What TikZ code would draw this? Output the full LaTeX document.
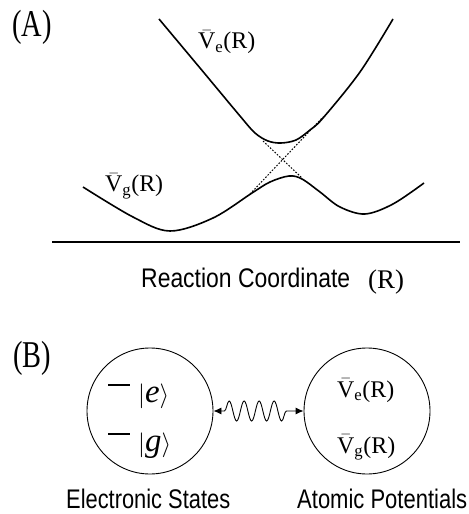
\documentclass[tikz,border=0pt]{standalone}
\usepackage{fontspec}
\usepackage{amsmath}
\usepackage{graphicx}
\setmainfont{Liberation Serif}
\setsansfont{Liberation Sans}
\usetikzlibrary{decorations.pathmorphing,arrows.meta}
\newcommand\Vlab[1]{$\bar{\text{V}}_{\text{#1}}\text{(R)}$}
\newcommand\ketline[1]{\rule[16bp]{22bp}{1.7bp}\hspace{8bp}$\vert\text{\textit{#1}}\rangle$}
\begin{document}
\begin{tikzpicture}[x=1bp,y=-1bp,
  curve/.style={line width=1.6bp, line join=round},
  dotline/.style={line width=1bp, dash pattern=on 1.6bp off 1.6bp},
  vlab/.style={inner sep=0pt, font=\fontsize{24}{28}\selectfont},
  ket/.style={inner sep=0pt, font=\fontsize{33}{34}\selectfont},
  panel/.style={inner sep=0pt, font=\fontsize{38}{38}\selectfont},
  sanslab/.style={inner sep=0pt, font=\sffamily\fontsize{27}{28}\selectfont},
  circ/.style={circle, draw, line width=0.9bp, minimum size=126bp, inner sep=0pt},
  wavy/.style={line width=0.9bp, {Latex[length=8bp,width=7bp]}-{Latex[length=8bp,width=7bp]},
    decorate, decoration={snake, segment length=15bp, amplitude=10bp, pre length=11bp, post length=11bp}}
]
\useasboundingbox (0,0) rectangle (469,514);

% panel labels
\node[panel] (labA) at (32,27.5) {\scalebox{0.75}[1]{(A)}};
\node[panel] (labB) at (32,358.5) {\scalebox{0.75}[1]{(B)}};

% potential curves
\draw[curve] plot[smooth, tension=0.55] coordinates {(159,19) (200,68) (240,116) (255,133) (268,141) (281,143) (296,140) (310,130) (323,118) (360,72) (393,19)};
\draw[curve] plot[smooth, tension=0.55] coordinates {(83,187) (133,217) (170,231) (213,218) (252,193) (270,182) (289,176) (302,179) (320,192) (340,207) (365,214) (393,204) (424,183)};
\draw[dotline] (263,141) -- (302,178);
\draw[dotline] (250,194) -- (323,117);

% axis
\draw[line width=2bp] (52,242) -- (460,242);

% curve labels
\node[vlab, anchor=base west] (ve) at (198,49) {\Vlab{e}};
\node[vlab, anchor=base west] (vg) at (105,192) {\Vlab{g}};

% axis label
\node[sanslab, anchor=base west] (rc) at (141,287) {\resizebox{209bp}{\height}{Reaction Coordinate}};
\node[inner sep=0pt, anchor=base west, font=\fontsize{27}{28}\selectfont] (rr) at (368,288) {(R)};

% panel B
\node[circ] (es) at (150,411) {};
\node[circ] (ap) at (367,411) {};
\draw[wavy] (es) -- (ap);

\node[ket, anchor=base west] (ke) at (108,402) {\ketline{e}};
\node[ket, anchor=base west] (kg) at (108,451) {\ketline{g}};

\node[vlab, anchor=base west] (ve2) at (337,397) {\Vlab{e}};
\node[vlab, anchor=base west] (vg2) at (337,453) {\Vlab{g}};

\node[sanslab, anchor=base west] (est) at (66,508) {\resizebox{164bp}{\height}{Electronic States}};
\node[sanslab, anchor=base west] (apt) at (297,508) {\resizebox{170bp}{\height}{Atomic Potentials}};
\end{tikzpicture}
\end{document}
